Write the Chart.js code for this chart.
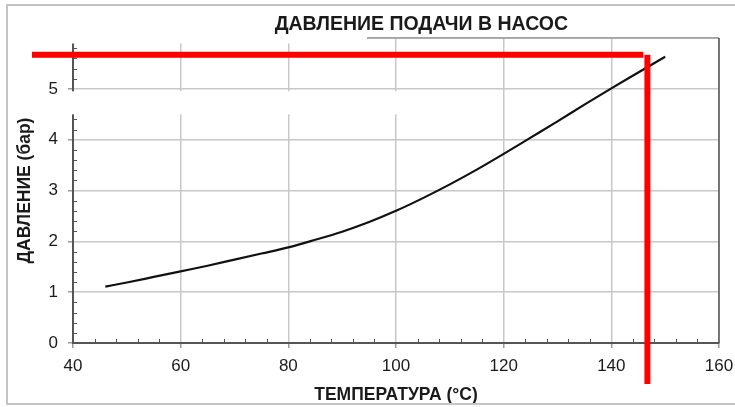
<!DOCTYPE html>
<html lang="ru">
<head>
<meta charset="utf-8">
<title>Давление подачи в насос</title>
<script src="https://cdn.jsdelivr.net/npm/chart.js@4/dist/chart.umd.min.js"></script>
<style>
  html, body { margin: 0; padding: 0; background: #ffffff; }
  #wrap { position: relative; width: 735px; height: 407px; }
</style>
</head>
<body>
<div id="wrap"><canvas id="chart" width="735" height="407"></canvas></div>
<script>
// Texts
const chartTitle = 'ДАВЛЕНИЕ ПОДАЧИ В НАСОС';
const xAxisTitle = 'ТЕМПЕРАТУРА (°C)';
const yAxisTitle = 'ДАВЛЕНИЕ (бар)';

// Tick labels
const xTickLabels = ['40', '60', '80', '100', '120', '140', '160'];
const yTickLabels = ['0', '1', '2', '3', '4', '5'];

// Supply pressure curve: temperature (°C) and pressure (bar)
const temperatures = [46, 50, 55, 60, 65, 70, 75, 80, 85, 90, 95, 100, 105, 110, 115, 120, 125, 130, 135, 140, 145, 150];
const pressures    = [1.11, 1.19, 1.30, 1.41, 1.52, 1.64, 1.76, 1.88, 2.03, 2.19, 2.38, 2.60, 2.85, 3.12, 3.41, 3.72, 4.04, 4.36, 4.69, 5.01, 5.32, 5.63];

// Reading guide: operating temperature and the pressure it points to
const guideTemperature = [146.7];
const guidePressure = [5.67];

const FONT = "'Liberation Sans', Arial, sans-serif";

const curvePoints = temperatures.map((t, i) => ({ x: t, y: pressures[i] }));

const decorations = {
  id: 'decorations',
  beforeDraw(chart) {
    const { ctx, width, height } = chart;
    ctx.save();
    ctx.fillStyle = '#ffffff';
    ctx.fillRect(0, 0, width, height);
    ctx.restore();
  },
  afterDraw(chart) {
    const { ctx, chartArea: a } = chart;
    const xs = chart.scales.x, ys = chart.scales.y;
    ctx.save();

    // plot box: top and right edges
    ctx.lineWidth = 1.5;
    ctx.strokeStyle = '#9a9a9a';
    ctx.beginPath(); ctx.moveTo(a.left, a.top); ctx.lineTo(a.right, a.top); ctx.stroke();
    ctx.strokeStyle = '#555555';
    ctx.beginPath(); ctx.moveTo(a.right, a.top); ctx.lineTo(a.right, a.bottom); ctx.stroke();

    // minor ticks, pointing into the plot
    ctx.strokeStyle = '#555555';
    ctx.lineWidth = 1;
    for (let t = xs.min + 4; t < xs.max; t += 4) {
      if (Math.round(t) % 20 === 0) continue;
      const px = Math.round(xs.getPixelForValue(t)) + 0.5;
      ctx.beginPath(); ctx.moveTo(px, a.bottom); ctx.lineTo(px, a.bottom - 4); ctx.stroke();
    }
    for (let k = 1; k < 30; k++) {
      if (k % 5 === 0) continue;
      const py = Math.round(ys.getPixelForValue(k * 0.2)) + 0.5;
      ctx.beginPath(); ctx.moveTo(a.left, py); ctx.lineTo(a.left + 4, py); ctx.stroke();
    }

    // white cut-outs over the grid
    ctx.fillStyle = '#ffffff';
    ctx.fillRect(a.left - 12, ys.getPixelForValue(5) + 2.5, 347, 23);
    ctx.fillRect(30, a.top - 14, a.left + 264, 19.5);

    // red reading guide
    const gx = xs.getPixelForValue(guideTemperature[0]);
    const gy = ys.getPixelForValue(guidePressure[0]);
    ctx.fillStyle = '#ff0000';
    ctx.fillRect(a.left - 41, gy - 3, gx - 4 - (a.left - 41), 6);
    ctx.fillRect(gx - 3, gy, 6, a.bottom + 41 - gy);

    // chart title
    ctx.fillStyle = '#1a1a1a';
    ctx.font = 'bold 19.5px ' + FONT;
    ctx.textAlign = 'right';
    ctx.textBaseline = 'alphabetic';
    ctx.fillText(chartTitle, a.right - 151, 29.5);

    // outer frame
    ctx.strokeStyle = '#c4c4c4';
    ctx.lineWidth = 2;
    ctx.strokeRect(7, 5, 800, 399);
    ctx.restore();
  }
};

new Chart(document.getElementById('chart'), {
  type: 'line',
  data: {
    datasets: [{
      data: curvePoints,
      borderColor: '#111111',
      borderWidth: 2.2,
      pointRadius: 0,
      fill: false,
      cubicInterpolationMode: 'monotone'
    }]
  },
  options: {
    responsive: false,
    animation: false,
    events: [],
    layout: { padding: { top: 38, right: 16, bottom: 0, left: 0 } },
    plugins: {
      legend: { display: false },
      title: { display: false },
      tooltip: { enabled: false }
    },
    scales: {
      x: {
        type: 'linear',
        min: 40, max: 160,
        afterFit: s => { s.height = 64; s.paddingLeft = 10; s.paddingRight = 10; },
        ticks: {
          stepSize: 20,
          padding: 8,
          color: '#1a1a1a',
          font: { family: FONT, size: 17 },
          callback: (v, i) => xTickLabels[i] ?? ''
        },
        grid: { color: '#c8c8c8', lineWidth: 1.5, tickLength: 5, tickColor: '#9a9a9a' },
        border: { color: '#555555', width: 2 },
        title: {
          display: true, text: xAxisTitle, color: '#1a1a1a',
          font: { family: FONT, size: 17.5, weight: 'bold' },
          padding: { top: 0, bottom: 1.5 }
        }
      },
      y: {
        type: 'linear',
        min: 0, max: 6,
        afterFit: s => { s.width = 73; },
        ticks: {
          stepSize: 1,
          padding: 10,
          color: '#1a1a1a',
          font: { family: FONT, size: 17 },
          callback: (v, i) => yTickLabels[i] ?? ''
        },
        grid: { color: '#c8c8c8', lineWidth: 1.5, tickLength: 5, tickColor: '#9a9a9a' },
        border: { color: '#555555', width: 2 },
        title: {
          display: true, text: yAxisTitle, color: '#1a1a1a',
          font: { family: FONT, size: 17.5, weight: 'bold' },
          padding: { top: 15, bottom: 0 }
        }
      }
    }
  },
  plugins: [decorations]
});
</script>
</body>
</html>
